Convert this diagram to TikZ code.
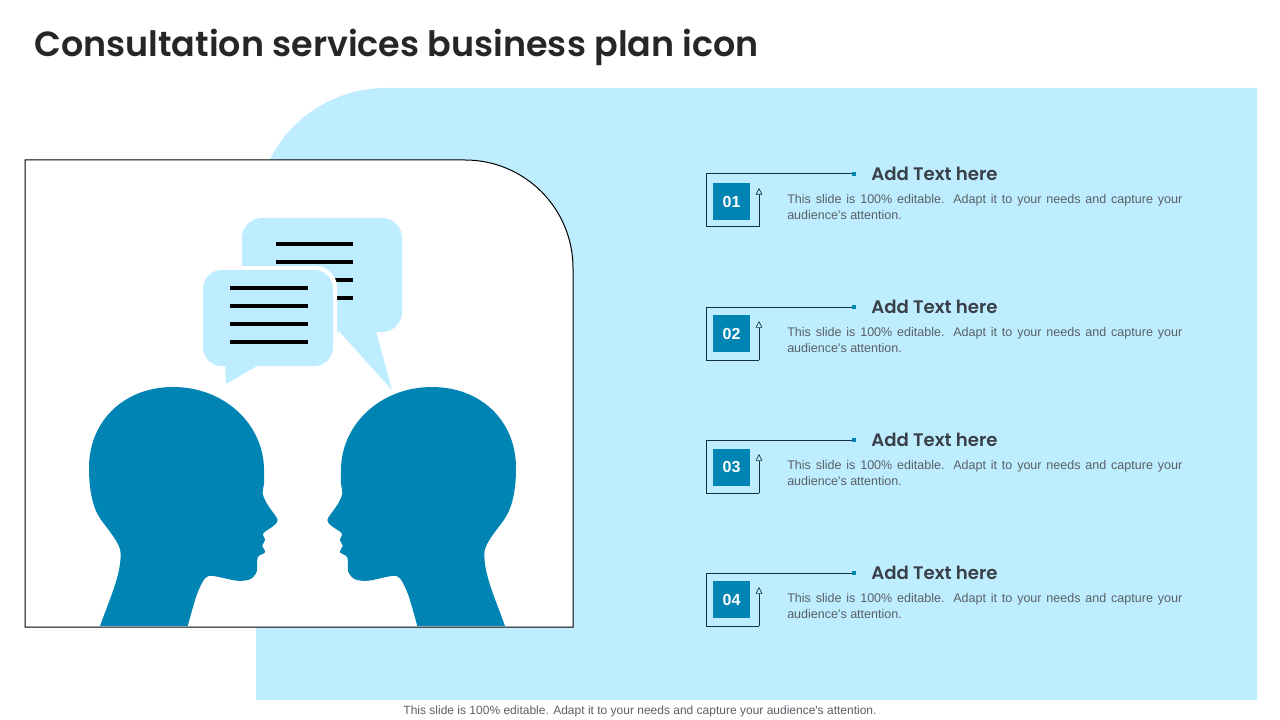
\documentclass[tikz,border=0pt]{standalone}
\usepackage{fontspec}
\setmainfont{Liberation Sans}
\newfontfamily\popf{Poppins}[BoldFont={Poppins SemiBold}]
\usetikzlibrary{arrows.meta}
\definecolor{skyb}{HTML}{BDEDFF}
\definecolor{headb}{HTML}{0084B4}
\definecolor{titlec}{HTML}{262626}
\definecolor{headc}{HTML}{3A4048}
\definecolor{bodyc}{HTML}{5A6066}
\definecolor{linec}{HTML}{10303F}
\newcommand{\headshape}{(100,626) .. controls (110,598) and (121,575) .. (120.7,553.3) .. controls (120.5,543) and (108,530) .. (100,518.3) .. controls (92,506) and (89,488) .. (89,468) .. controls (89,420) and (125,387) .. (173,387) .. controls (225,387) and (264,425) .. (264,470) -- plot[smooth,tension=0.5] coordinates {(264,470) (264.2,482) (262.7,493.3) (266,502) (270,508.3) (277.7,520) (273.3,526) (263.3,533.3) (265,540) (262.3,545.7) (265,552.3) (257.7,557.3) (256.7,571.7) (250,579.3) (236.7,580.7) (213.3,576) (205,578.3) (196.7,595) (187.7,626)} -- cycle}
\newcommand{\nohyph}{\hyphenpenalty=10000\relax\exhyphenpenalty=10000\relax}
\tikzset{
  titletext/.style={anchor=west,inner sep=0pt,text=titlec,font=\popf\bfseries\fontsize{26.2}{32}\selectfont},
  headtext/.style={anchor=west,inner sep=0pt,text=headc,font=\popf\bfseries\fontsize{13.6}{16}\selectfont},
  bodytext/.style={anchor=north west,inner sep=0pt,text=bodyc,text width=296.25pt,align=justify,font=\fontsize{9.4}{12}\selectfont,execute at begin node=\nohyph},
  foottext/.style={inner sep=0pt,text=bodyc,font=\fontsize{9}{10}\selectfont},
  numbox/.style={fill=headb,text=white,minimum size=27.75pt,inner sep=0pt,font=\bfseries\fontsize{12}{14}\selectfont},
  dotbox/.style={fill=headb,minimum size=3pt,inner sep=0pt},
  frameline/.style={draw=linec,line width=0.75pt},
  arrowline/.style={frameline,-{Triangle[open,length=5pt,width=5pt,fill=skyb,line width=0.5pt]}},
  textline/.style={draw=black,line width=2.3pt},
}
\begin{document}
\begin{tikzpicture}[x=0.75pt,y=-0.75pt]
\useasboundingbox (0,0) rectangle (1280,720);
\fill[white] (0,0) rectangle (1280,720);
\node[titletext] (title) at (34,47) {Consultation services business plan icon};
% background
\fill[skyb] (256,700) -- (256,218) arc[start angle=180,end angle=270,radius=130] -- (1257,88) -- (1257,700) -- cycle;
% white panel
\draw[fill=white,draw=black,line width=0.75pt] (25,160) -- (465,160) arc[start angle=-90,end angle=0,radius=108] -- (573,627) -- (25,627) -- cycle;
% back bubble
\fill[skyb,rounded corners=15pt] (242,218) rectangle (402,332);
\fill[skyb] (337,329) -- (376,331) -- (392,390) -- cycle;
\foreach \y in {244,262,280,298} \draw[textline] (276,\y) -- (353,\y);
% front bubble
\fill[white,rounded corners=16pt] (199,266) rectangle (337,370);
\fill[skyb,rounded corners=14pt] (203,270) rectangle (333,366);
\fill[skyb] (225,360) -- (226,384) -- (257,366) -- (257,360) -- cycle;
\foreach \y in {288,306,324,342} \draw[textline] (230,\y) -- (308,\y);
% heads
\fill[headb] \headshape;
\begin{scope}[xshift=453.75pt,xscale=-1]
\fill[headb] \headshape;
\end{scope}
% items
\foreach \i/\lab/\top/\mid in {1/01/174/201.5,2/02/307/333.5,3/03/440/467,4/04/573/599.5}{
  \coordinate (tl\i) at (706,\top);
  \coordinate (bl\i) at (706,\top+53);
  \coordinate (br\i) at (759,\top+53);
  \coordinate (at\i) at (759,\top+14);
  \node[dotbox] (dot\i) at (854,\top) {};
  \node[numbox] (num\i) at (731.5,\mid) {\lab};
  \draw[frameline] (dot\i.west) -- (tl\i) -- (bl\i) -- (br\i);
  \draw[arrowline] (br\i) -- (at\i);
  \node[headtext] (head\i) at (871,\top) {Add Text here};
  \node[bodytext] (body\i) at (787,\top+20.5) {This slide is 100\% editable. Adapt it to your needs and capture your audience\textquotesingle s attention.};
}
\node[foottext] (foot) at (640,711) {This slide is 100\% editable. Adapt it to your needs and capture your audience\textquotesingle s attention.};
\end{tikzpicture}
\end{document}
